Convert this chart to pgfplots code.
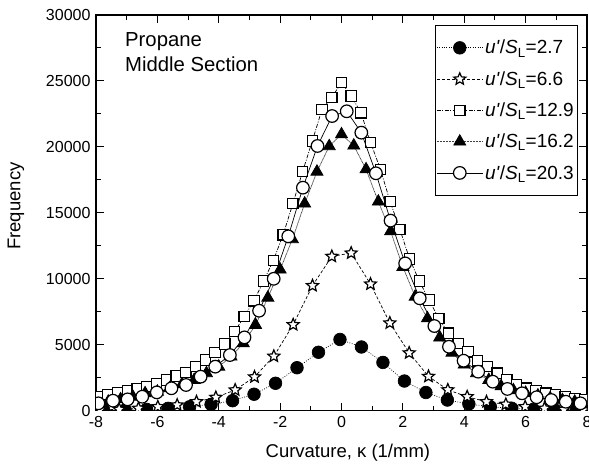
\documentclass[border=0pt]{standalone}
\usepackage{fontspec}
\setmainfont{Liberation Sans}
\usepackage{pgfplots}
\pgfplotsset{compat=1.18}

% outlined five-pointed star, filled with the fill colour
\pgfdeclareplotmark{ostar}{%
  \pgfpathmoveto{\pgfpointpolar{90}{\pgfplotmarksize}}%
  \pgfpathlineto{\pgfpointpolar{126}{0.45\pgfplotmarksize}}%
  \pgfpathlineto{\pgfpointpolar{162}{\pgfplotmarksize}}%
  \pgfpathlineto{\pgfpointpolar{198}{0.45\pgfplotmarksize}}%
  \pgfpathlineto{\pgfpointpolar{234}{\pgfplotmarksize}}%
  \pgfpathlineto{\pgfpointpolar{270}{0.45\pgfplotmarksize}}%
  \pgfpathlineto{\pgfpointpolar{306}{\pgfplotmarksize}}%
  \pgfpathlineto{\pgfpointpolar{342}{0.45\pgfplotmarksize}}%
  \pgfpathlineto{\pgfpointpolar{18}{\pgfplotmarksize}}%
  \pgfpathlineto{\pgfpointpolar{54}{0.45\pgfplotmarksize}}%
  \pgfpathclose
  \pgfusepathqfillstroke
}

\newcommand{\ratio}[1]{\textit{u\textquotesingle}/\textit{S}\textsubscript{L}=#1}

\begin{document}
\begin{tikzpicture}
\begin{axis}[
  name=ax,
  scale only axis, width=491pt, height=395.7pt,
  xmin=-8, xmax=8, ymin=0, ymax=30000,
  xtick={-8,-6,...,8}, xticklabels={-8,-6,-4,-2,0,2,4,6,8},
  minor xtick={-7,-5,...,7},
  ytick={0,5000,...,30000},
  yticklabels={0,5000,10000,15000,20000,25000,30000},
  minor ytick={2500,7500,...,27500},
  scaled y ticks=false,
  tick align=inside,
  major tick length=8pt, minor tick length=5pt,
  every tick/.style={black, line width=1pt},
  axis line style={line width=1.3pt},
  tick label style={font=\fontsize{16}{18}\selectfont},
  xticklabel style={yshift=-2pt},
  yticklabel style={xshift=-2pt},
  xlabel={Curvature, κ (1/mm)},
  ylabel={Frequency},
  label style={font=\fontsize{18.5}{22}\selectfont},
  xlabel style={at={(axis description cs:0.513,-0.107)}, anchor=center},
  ylabel style={at={(axis description cs:-0.163,0.517)}, anchor=center, rotate=0},
  clip marker paths=true,
  legend style={at={(0.9796,0.9747)}, anchor=north east, draw=black,
    font=\fontsize{19}{22}\selectfont, inner xsep=1pt, inner ysep=13pt,
    row sep=12pt, cells={anchor=west}},
  legend image code/.code={\draw[mark repeat=2,mark phase=2,#1]
    plot coordinates {(0pt,0pt) (23pt,0pt) (46pt,0pt)};},
]

% u'/S_L = 2.7
\addplot[black, line width=0.7pt, dash pattern=on 0.8pt off 1.6pt,
  mark=*, mark size=6.3pt, mark options={solid}]
coordinates {
(-7.75,40) (-7.05,60) (-6.35,100) (-5.65,180) (-4.95,300) (-4.25,480)
(-3.55,760) (-2.85,1250) (-2.15,2080) (-1.45,3260) (-0.75,4430) (-0.05,5400)
(0.65,4830) (1.35,3660) (2.05,2250) (2.75,1380) (3.45,810) (4.15,510)
(4.85,300) (5.55,180) (6.25,100) (6.95,60) (7.65,40)
};
\addlegendentry{\ratio{2.7}}

% u'/S_L = 6.6
\addplot[black, line width=0.7pt, dash pattern=on 3pt off 2pt,
  mark=ostar, mark size=6.3pt, mark options={solid, fill=white, line width=1.2pt}]
coordinates {
(-7.875,60) (-7.245,100) (-6.615,180) (-5.985,300) (-5.355,430) (-4.725,680)
(-4.095,1010) (-3.465,1570) (-2.835,2560) (-2.205,4130) (-1.575,6520)
(-0.945,9480) (-0.315,11700) (0.315,11950) (0.945,9600) (1.575,6650)
(2.205,4380) (2.835,2600) (3.465,1580) (4.095,1060) (4.725,680) (5.355,485)
(5.985,300) (6.615,180) (7.245,100) (7.875,50)
};
\addlegendentry{\ratio{6.6}}

% u'/S_L = 12.9
\addplot[black, line width=0.7pt, dash pattern=on 4pt off 1.5pt on 1pt off 1.5pt,
  mark=square*, mark size=5.2pt, mark options={solid, fill=white, line width=1.2pt}]
coordinates {
(-7.925,1060) (-7.608,1240) (-7.291,1360) (-6.974,1500) (-6.657,1650)
(-6.340,1820) (-6.023,2020) (-5.706,2330) (-5.389,2630) (-5.072,2910)
(-4.755,3340) (-4.438,3840) (-4.121,4400) (-3.804,5060) (-3.487,5990)
(-3.170,7130) (-2.853,8340) (-2.536,9830) (-2.219,11400) (-1.902,13340)
(-1.585,15700) (-1.268,18120) (-0.951,20450) (-0.634,22850) (-0.317,23760)
(0,24870)
(0.317,23860) (0.634,22590) (0.951,20320) (1.268,18300) (1.585,15850)
(1.902,13750) (2.219,11500) (2.536,9830) (2.853,8390) (3.170,7000)
(3.487,5870) (3.804,5110) (4.121,4470) (4.438,3790) (4.755,3340)
(5.072,2840) (5.389,2330) (5.706,1950) (6.023,1700) (6.340,1520)
(6.657,1320) (6.974,1190) (7.291,1060) (7.608,940) (7.925,860)
};
\addlegendentry{\ratio{12.9}}

% u'/S_L = 16.2
\addplot[black!75, line width=0.7pt, dash pattern=on 1pt off 0.5pt,
  mark=triangle*, mark size=7pt, mark options={solid, black, fill=black}]
coordinates {
(-7.6,680) (-7.2,860) (-6.8,1060) (-6.4,1320) (-6.0,1440) (-5.6,1700)
(-5.2,2000) (-4.8,2330) (-4.4,2840) (-4.0,3340) (-3.6,4100) (-3.2,5110)
(-2.8,6500) (-2.4,8570) (-2.0,10700) (-1.6,13000) (-1.2,15700) (-0.8,18120)
(-0.4,20050) (0,20950) (0.4,20100) (0.8,18300) (1.2,15850) (1.6,13600)
(2.0,10900) (2.4,8640) (2.8,7000) (3.2,5550) (3.6,4400) (4.0,3500)
(4.4,2840) (4.8,2330) (5.2,1850) (5.6,1550) (6.0,1350) (6.4,1150)
(6.8,950) (7.2,800) (7.6,680)
};
\addlegendentry{\ratio{16.2}}

% u'/S_L = 20.3
\addplot[black, line width=0.7pt, solid,
  mark=*, mark size=6.3pt, mark options={solid, fill=white, line width=1.2pt}]
coordinates {
(-7.922,560) (-7.446,760) (-6.970,860) (-6.494,1060) (-6.018,1390)
(-5.542,1700) (-5.066,1950) (-4.590,2580) (-4.114,3340) (-3.638,4220)
(-3.162,5560) (-2.686,7580) (-2.210,10000) (-1.734,13220) (-1.258,16910)
(-0.782,20070) (-0.306,22340) (0.170,22700) (0.646,21080) (1.122,18000)
(1.598,14410) (2.074,11170) (2.550,8520) (3.026,6420) (3.502,4850)
(3.978,3790) (4.454,2960) (4.930,2200) (5.406,1650) (5.882,1320)
(6.358,1020) (6.834,810) (7.310,680) (7.786,560)
};
\addlegendentry{\ratio{20.3}}

\node[anchor=base west, inner sep=0pt, font=\fontsize{20.3}{24}\selectfont]
  at (axis description cs:0.059,0.9199) {Propane};
\node[anchor=base west, inner sep=0pt, font=\fontsize{20.3}{24}\selectfont]
  at (axis description cs:0.059,0.8567) {Middle Section};
\end{axis}
\pgfresetboundingbox
\path[use as bounding box] ([shift={(-96pt,-58.3pt)}]ax.south west)
  rectangle ([shift={(2pt,15pt)}]ax.north east);
\end{tikzpicture}
\end{document}
